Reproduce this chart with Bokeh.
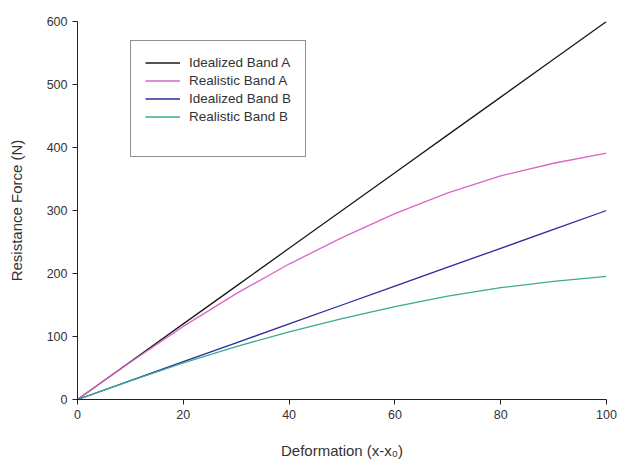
from bokeh.plotting import figure
from bokeh.models import Range1d, Legend, LegendItem, FixedTicker
from bokeh.embed import file_html
from bokeh.resources import INLINE

deformation = [0, 10, 20, 30, 40, 50, 60, 70, 80, 90, 100]
idealized_a = [0, 60, 120, 180, 240, 300, 360, 420, 480, 540, 600]
realistic_a = [0, 59, 116, 168, 215, 257, 295, 328, 355, 375, 391]
idealized_b = [0, 30, 60, 90, 120, 150, 180, 210, 240, 270, 300]
realistic_b = [0, 29.5, 58, 84, 107.5, 128.5, 147.5, 164, 177.5, 187.5, 195.5]

names = ["Idealized Band A", "Realistic Band A", "Idealized Band B", "Realistic Band B"]
series = [idealized_a, realistic_a, idealized_b, realistic_b]
colors = ["#1a1a1a", "#d966c8", "#2a2a9a", "#3aaa90"]

p = figure(width=621, height=461, output_backend="svg", toolbar_location=None,
           x_range=Range1d(0, 100), y_range=Range1d(0, 600),
           min_border_left=77, min_border_right=15, min_border_top=21, min_border_bottom=61)
p.outline_line_color = None
p.xgrid.visible = False
p.ygrid.visible = False

items = []
for name, ys, c in zip(names, series, colors):
    r = p.line(deformation, ys, line_color=c, line_width=1.3)
    items.append(LegendItem(label=name, renderers=[r]))
# blank spacer row at the bottom of the legend box
spacer = p.line([], [], line_alpha=0)
items.append(LegendItem(label=" ", renderers=[spacer]))

for ax in (p.xaxis[0], p.yaxis[0]):
    ax.minor_tick_line_color = None
    ax.major_tick_out = 5
    ax.major_tick_in = 0
    ax.axis_line_color = "#222222"
    ax.major_tick_line_color = "#222222"
    ax.major_label_text_font = "Liberation Sans"
    ax.major_label_text_font_size = "12.5px"
    ax.major_label_text_color = "#333333"
    ax.axis_label_text_font = "Liberation Sans"
    ax.axis_label_text_font_size = "15px"
    ax.axis_label_text_font_style = "normal"
    ax.axis_label_text_color = "#333333"

p.xaxis.ticker = FixedTicker(ticks=[0, 20, 40, 60, 80, 100])
p.yaxis.ticker = FixedTicker(ticks=[0, 100, 200, 300, 400, 500, 600])
p.xaxis.axis_label = "Deformation (x-x\u2080)"
p.yaxis.axis_label = "Resistance Force (N)"
p.xaxis.axis_label_standoff = 20
p.yaxis.axis_label_standoff = 19

legend = Legend(items=items, location=(53, 242))
legend.border_line_color = "#222222"
legend.border_line_width = 1
legend.background_fill_alpha = 1
legend.label_text_font = "Liberation Sans"
legend.label_text_font_size = "13.5px"
legend.label_text_color = "#333333"
legend.glyph_width = 35
legend.glyph_height = 15
legend.label_height = 15
legend.spacing = 3
legend.padding = 14
legend.margin = 0
legend.label_standoff = 9
p.add_layout(legend, "center")

open("out.html", "w").write(file_html(p, INLINE))
